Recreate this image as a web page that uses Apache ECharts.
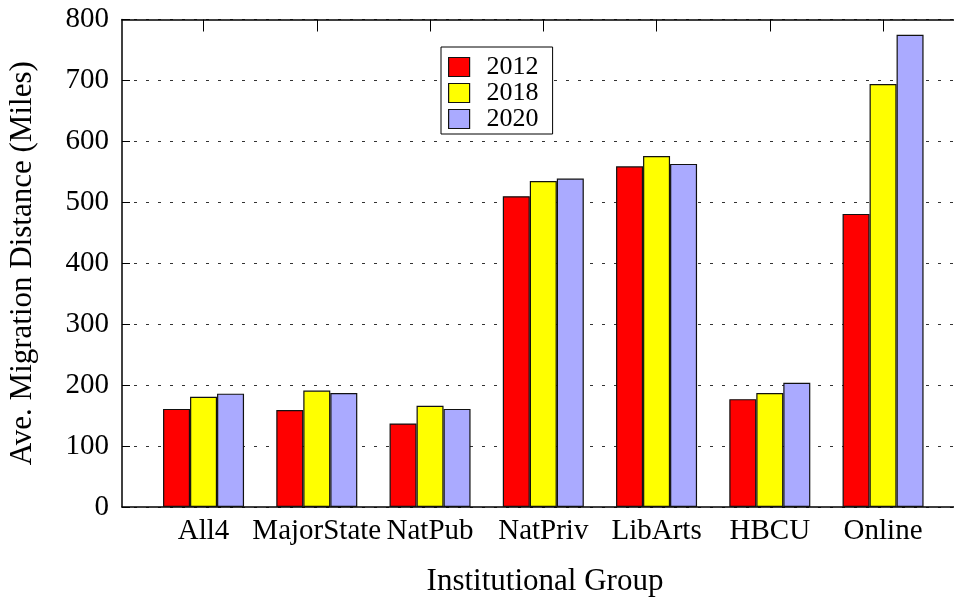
<!DOCTYPE html>
<html>
<head>
<meta charset="utf-8">
<script src="https://cdn.jsdelivr.net/npm/echarts@6/dist/echarts.min.js"></script>
<style>html,body{margin:0;padding:0;background:#fff;}#c{width:954px;height:598px;}</style>
</head>
<body>
<div id="c"></div>
<script>
var categories = ['All4', 'MajorState', 'NatPub', 'NatPriv', 'LibArts', 'HBCU', 'Online'];
var years = ['2012', '2018', '2020'];
var v2012 = [161, 159, 137, 510, 559, 177, 481];
var v2018 = [181, 191, 166, 535, 576, 187, 694];
var v2020 = [186, 187, 161, 539, 563, 204, 775];
var yTicks = [0, 100, 200, 300, 400, 500, 600, 700, 800];

var FONT = '"Liberation Serif", "DejaVu Serif", serif';
var colors = ['#ff0000', '#ffff00', '#aaaaff'];
var seriesValues = [v2012, v2018, v2020];
var positions = categories.map(function (_, i) { return i; });

var chart = echarts.init(document.getElementById('c'), null, {renderer: 'canvas'});

var series = years.map(function (y, k) {
  return {
    name: y,
    type: 'bar',
    xAxisIndex: 0,
    yAxisIndex: 0,
    barWidth: 27,
    barGap: '0%',
    itemStyle: {color: colors[k], borderColor: '#111', borderWidth: 1.2},
    data: seriesValues[k].map(function (v, i) { return [positions[i], v]; })
  };
});

chart.setOption({
  animation: false,
  backgroundColor: '#fff',
  textStyle: {fontFamily: FONT},
  grid: {left: 122, top: 19.5, width: 846, height: 487.5, show: false, containLabel: false, outerBoundsMode: 'none'},
  legend: {
    orient: 'vertical',
    left: 441,
    top: 47,
    data: years,
    itemWidth: 21,
    itemHeight: 19,
    itemGap: 0,
    padding: [7, 14, 2, 7],
    borderColor: '#000',
    borderWidth: 1,
    borderRadius: 0,
    backgroundColor: '#fff',
    icon: 'rect',
    textStyle: {fontFamily: FONT, fontSize: 26, color: '#000', padding: [0, 0, 0, 12], lineHeight: 26},
    itemStyle: {borderColor: '#111', borderWidth: 1.2}
  },
  xAxis: [{
    type: 'value',
    min: -0.72,
    max: 6.75,
    position: 'bottom',
    name: 'Institutional Group',
    nameLocation: 'middle',
    nameGap: 59,
    nameTextStyle: {fontFamily: FONT, fontSize: 31, color: '#000'},
    axisLine: {show: true, onZero: false, lineStyle: {color: '#000', width: 1.5}},
    axisTick: {show: true, inside: true, length: 12, customValues: positions, lineStyle: {color: '#000'}},
    axisLabel: {
      customValues: positions,
      margin: 10,
      fontFamily: FONT, fontSize: 29, color: '#000',
      formatter: function (v) { return categories[Math.round(v)]; }
    },
    splitLine: {show: false}
  }, {
    type: 'value',
    min: -0.72,
    max: 6.75,
    position: 'top',
    axisLine: {show: true, onZero: false, lineStyle: {color: '#000', width: 1.5}},
    axisTick: {show: true, inside: true, length: 12, customValues: positions, lineStyle: {color: '#000'}},
    axisLabel: {show: false},
    splitLine: {show: false}
  }],
  yAxis: [{
    type: 'value',
    min: 0,
    max: 800,
    interval: 100,
    position: 'left',
    name: 'Ave. Migration Distance (Miles)',
    nameLocation: 'middle',
    nameGap: 84,
    nameRotate: 90,
    nameTextStyle: {fontFamily: FONT, fontSize: 31, color: '#000'},
    axisLine: {show: true, onZero: false, lineStyle: {color: '#000', width: 1.5}},
    axisTick: {show: true, inside: true, length: 8, lineStyle: {color: '#000'}},
    axisLabel: {
      margin: 13, fontFamily: FONT, fontSize: 29, color: '#000',
      formatter: function (v) { return yTicks.indexOf(v) >= 0 ? String(v) : ''; }
    },
    splitLine: {show: true, lineStyle: {color: '#333', width: 1, type: [3, 9]}}
  }, {
    type: 'value',
    min: 0,
    max: 800,
    interval: 100,
    position: 'right',
    axisLine: {show: true, onZero: false, lineStyle: {color: '#000', width: 1.5}},
    axisTick: {show: true, inside: true, length: 8},
    axisLabel: {show: false},
    splitLine: {show: false}
  }],
  series: series
});
</script>
</body>
</html>
